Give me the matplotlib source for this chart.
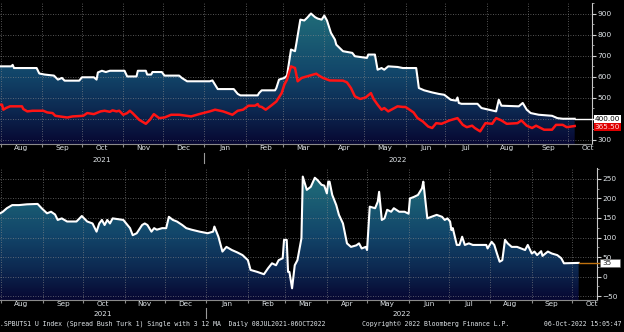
import matplotlib
matplotlib.use("Agg")
import matplotlib.dates as mdates
import numpy as np
import pandas as pd
from matplotlib import pyplot as plt
from matplotlib.colors import LinearSegmentedColormap
from matplotlib.patches import Polygon, Rectangle
from matplotlib.ticker import MultipleLocator, NullFormatter

# top panel: spread (white) and moving average (red)
spread_dates = ["2021-07-25", "2021-08-09", "2021-08-10", "2021-08-11", "2021-08-28", "2021-08-30", "2021-09-03",
                "2021-09-10", "2021-09-13", "2021-09-16", "2021-09-18", "2021-09-29", "2021-10-01", "2021-10-10",
                "2021-10-12", "2021-10-13", "2021-10-16", "2021-10-19", "2021-10-22", "2021-11-02", "2021-11-04",
                "2021-11-11", "2021-11-12", "2021-11-18", "2021-11-19", "2021-11-22", "2021-11-23", "2021-11-30",
                "2021-12-02", "2021-12-13", "2021-12-15", "2021-12-19", "2022-01-05", "2022-01-07", "2022-01-11",
                "2022-01-23", "2022-01-26", "2022-01-28", "2022-02-10", "2022-02-11", "2022-02-13", "2022-02-23",
                "2022-02-24", "2022-02-26", "2022-03-02", "2022-03-04", "2022-03-07", "2022-03-10", "2022-03-11",
                "2022-03-14", "2022-03-17", "2022-03-19", "2022-03-22", "2022-03-25", "2022-03-27", "2022-03-30",
                "2022-04-01", "2022-04-03", "2022-04-06", "2022-04-09", "2022-04-10", "2022-04-15", "2022-04-22",
                "2022-04-24", "2022-05-03", "2022-05-04", "2022-05-09", "2022-05-11", "2022-05-14", "2022-05-16",
                "2022-05-19", "2022-05-26", "2022-05-30", "2022-06-09", "2022-06-11", "2022-06-15", "2022-06-21",
                "2022-06-26", "2022-06-30", "2022-07-05", "2022-07-09", "2022-07-10", "2022-07-11", "2022-07-13",
                "2022-07-25", "2022-07-28", "2022-08-08", "2022-08-10", "2022-08-12", "2022-08-25", "2022-08-28",
                "2022-08-31", "2022-09-03", "2022-09-09", "2022-09-19", "2022-09-23", "2022-09-27", "2022-10-06"]
spread_values = [649, 649, 656, 641, 641, 615, 610, 605, 586, 594, 581, 581, 597, 597, 586, 620, 628, 622, 628, 628,
                 601, 601, 628, 628, 610, 610, 622, 622, 605, 605, 594, 578, 578, 582, 541, 541, 518, 511, 511, 522,
                 535, 535, 546, 586, 594, 605, 729, 721, 757, 871, 867, 879, 900, 883, 876, 871, 890, 867, 808, 776,
                 752, 721, 713, 697, 689, 705, 705, 633, 641, 633, 649, 646, 641, 641, 546, 535, 525, 518, 514, 490,
                 486, 501, 475, 471, 471, 451, 435, 490, 462, 459, 475, 443, 427, 419, 414, 403, 400, 400]

ma_dates = ["2021-07-25", "2021-08-02", "2021-08-03", "2021-08-05", "2021-08-08", "2021-08-17", "2021-08-18",
            "2021-08-21", "2021-08-25", "2021-09-02", "2021-09-05", "2021-09-09", "2021-09-11", "2021-09-20",
            "2021-09-24", "2021-10-02", "2021-10-05", "2021-10-10", "2021-10-15", "2021-10-18", "2021-10-22",
            "2021-10-24", "2021-10-27", "2021-10-29", "2021-11-01", "2021-11-04", "2021-11-06", "2021-11-08",
            "2021-11-13", "2021-11-18", "2021-11-21", "2021-11-24", "2021-11-28", "2021-12-02", "2021-12-07",
            "2021-12-13", "2021-12-22", "2021-12-28", "2022-01-05", "2022-01-09", "2022-01-15", "2022-01-22",
            "2022-01-26", "2022-01-30", "2022-02-03", "2022-02-08", "2022-02-10", "2022-02-11", "2022-02-13",
            "2022-02-16", "2022-02-20", "2022-02-24", "2022-02-28", "2022-03-02", "2022-03-04", "2022-03-07",
            "2022-03-10", "2022-03-12", "2022-03-15", "2022-03-21", "2022-03-26", "2022-03-28", "2022-03-31",
            "2022-04-05", "2022-04-15", "2022-04-18", "2022-04-21", "2022-04-24", "2022-04-28", "2022-05-02",
            "2022-05-06", "2022-05-08", "2022-05-11", "2022-05-14", "2022-05-16", "2022-05-19", "2022-05-26",
            "2022-05-30", "2022-06-01", "2022-06-07", "2022-06-10", "2022-06-14", "2022-06-18", "2022-06-21",
            "2022-06-24", "2022-06-28", "2022-07-04", "2022-07-10", "2022-07-14", "2022-07-17", "2022-07-21",
            "2022-07-23", "2022-07-27", "2022-07-31", "2022-08-05", "2022-08-08", "2022-08-12", "2022-08-16",
            "2022-08-24", "2022-08-27", "2022-08-31", "2022-09-04", "2022-09-07", "2022-09-13", "2022-09-19",
            "2022-09-22", "2022-09-27", "2022-09-30", "2022-10-06"]
ma_values = [467, 467, 443, 451, 459, 459, 446, 435, 438, 438, 430, 427, 414, 406, 411, 414, 427, 422, 435, 438,
             433, 440, 435, 438, 419, 427, 438, 427, 395, 376, 395, 422, 403, 406, 419, 419, 411, 422, 435, 443,
             435, 419, 438, 443, 462, 462, 470, 459, 456, 443, 462, 482, 522, 562, 586, 649, 641, 578, 594, 605,
             614, 605, 594, 582, 581, 573, 546, 506, 494, 501, 522, 494, 467, 443, 451, 435, 459, 456, 456, 430,
             403, 387, 363, 356, 379, 376, 392, 403, 371, 360, 367, 356, 340, 379, 376, 403, 392, 376, 379, 392,
             367, 356, 367, 348, 348, 371, 371, 360, 365.5]

# bottom panel: spread minus moving average
diff_dates = ["2021-07-25", "2021-07-31", "2021-08-02", "2021-08-05", "2021-08-09", "2021-08-14", "2021-08-20",
              "2021-08-28", "2021-08-31", "2021-09-04", "2021-09-07", "2021-09-10", "2021-09-12", "2021-09-15",
              "2021-09-19", "2021-09-26", "2021-09-30", "2021-10-04", "2021-10-08", "2021-10-11", "2021-10-13",
              "2021-10-15", "2021-10-17", "2021-10-19", "2021-10-21", "2021-10-23", "2021-10-31", "2021-11-05",
              "2021-11-07", "2021-11-10", "2021-11-14", "2021-11-16", "2021-11-18", "2021-11-21", "2021-11-23",
              "2021-11-25", "2021-11-29", "2021-12-02", "2021-12-04", "2021-12-07", "2021-12-10", "2021-12-14",
              "2021-12-17", "2021-12-21", "2021-12-27", "2022-01-02", "2022-01-06", "2022-01-07", "2022-01-10",
              "2022-01-13", "2022-01-16", "2022-01-20", "2022-01-24", "2022-01-28", "2022-02-01", "2022-02-03",
              "2022-02-08", "2022-02-13", "2022-02-16", "2022-02-19", "2022-02-22", "2022-02-24", "2022-02-27",
              "2022-02-28", "2022-03-02", "2022-03-03", "2022-03-04", "2022-03-06", "2022-03-08", "2022-03-10",
              "2022-03-13", "2022-03-14", "2022-03-17", "2022-03-20", "2022-03-23", "2022-03-25", "2022-03-28",
              "2022-03-30", "2022-04-01", "2022-04-02", "2022-04-03", "2022-04-05", "2022-04-08", "2022-04-10",
              "2022-04-13", "2022-04-16", "2022-04-19", "2022-04-23", "2022-04-25", "2022-04-27", "2022-04-30",
              "2022-05-01", "2022-05-03", "2022-05-07", "2022-05-09", "2022-05-10", "2022-05-12", "2022-05-14",
              "2022-05-16", "2022-05-19", "2022-05-21", "2022-05-25", "2022-05-29", "2022-06-01", "2022-06-02",
              "2022-06-05", "2022-06-08", "2022-06-11", "2022-06-12", "2022-06-15", "2022-06-18", "2022-06-22",
              "2022-06-26", "2022-06-28", "2022-06-30", "2022-07-02", "2022-07-03", "2022-07-04", "2022-07-07",
              "2022-07-09", "2022-07-11", "2022-07-13", "2022-07-16", "2022-07-19", "2022-07-29", "2022-07-30",
              "2022-08-02", "2022-08-04", "2022-08-06", "2022-08-08", "2022-08-10", "2022-08-12", "2022-08-14",
              "2022-08-17", "2022-08-21", "2022-08-24", "2022-08-27", "2022-08-29", "2022-09-01", "2022-09-03",
              "2022-09-05", "2022-09-08", "2022-09-09", "2022-09-13", "2022-09-16", "2022-09-20", "2022-09-23",
              "2022-09-25", "2022-10-06"]
diff_values = [160, 162, 166, 175, 183, 183, 185, 186, 175, 162,
               166, 159, 145, 149, 141, 141, 155, 141, 136, 115,
               136, 145, 132, 145, 136, 149, 145, 124, 106, 111,
               132, 136, 132, 115, 124, 120, 124, 124, 153, 145,
               141, 132, 124, 120, 115, 111, 115, 128, 102, 64,
               76, 68, 62, 55, 42, 17, 12, 6, 21, 34,
               29, 42, 47, 94, 94, 12, 12, -30, 29, 42,
               98, 256, 222, 230, 253, 247, 235, 233, 213, 243,
               243, 209, 183, 158, 136, 85, 76, 80, 85, 72,
               76, 68, 179, 175, 192, 217, 145, 149, 171, 166,
               175, 166, 166, 161, 200, 204, 209, 226, 243, 149,
               153, 158, 153, 145, 149, 141, 119, 124, 81, 81,
               102, 81, 85, 81, 81, 72, 89, 81, 59, 38,
               42, 94, 85, 76, 76, 72, 68, 81, 59, 64,
               55, 65, 53, 64, 59, 55, 47, 34, 35]

footer_left = ".SPBUTS1 U Index (Spread Bush Turk 1) Single with 3 12 MA  Daily 08JUL2021-06OCT2022"
footer_mid = "Copyright\u00a9 2022 Bloomberg Finance L.P."
footer_right = "06-Oct-2022 15:05:47"

TXT = '#dfe4e8'
GRID = '#8c8c8c'
fill_cmap = LinearSegmentedColormap.from_list(
    'bbg', [(0.0, '#070732'), (0.25, '#0d2a52'), (0.5, '#12466a'), (0.9, '#1f6a78'), (1.0, '#247684')])

base = pd.Timestamp('2021-08-01')


def to_num(dates):
    return mdates.date2num(pd.to_datetime(dates))


def style_axes(ax, days, ylim, major):
    ax.set_facecolor('black')
    ax.set_xlim(mdates.date2num(base + pd.Timedelta(days=days[0])),
                mdates.date2num(base + pd.Timedelta(days=days[1])))
    ax.set_ylim(*ylim)
    for s in ['left', 'top']:
        ax.spines[s].set_visible(False)
    ax.spines['right'].set_color('#c8c8c8')
    ax.spines['bottom'].set_color('#8a8a8a')
    ax.yaxis.tick_right()
    ax.yaxis.set_major_locator(MultipleLocator(major))
    ax.yaxis.set_minor_locator(MultipleLocator(major / 2))
    ax.tick_params(axis='y', which='major', colors='#d0d0d0', labelcolor=TXT, labelsize=5.3,
                   length=3, width=0.8, pad=1)
    ax.tick_params(axis='y', which='minor', colors='#b0b0b0', length=1.5, width=0.6)
    ax.xaxis.set_major_locator(mdates.MonthLocator())
    ax.xaxis.set_major_formatter(NullFormatter())
    ax.xaxis.set_minor_locator(mdates.MonthLocator(bymonthday=16))
    ax.xaxis.set_minor_formatter(mdates.DateFormatter('%b'))
    ax.tick_params(axis='x', which='major', length=2, color='#8a8a8a')
    ax.tick_params(axis='x', which='minor', length=0, labelcolor=TXT, labelsize=5.2, pad=1.0)
    ax.set_axisbelow(False)
    ax.grid(True, which='major', color=GRID, linestyle=(0, (1, 2)), linewidth=0.6, alpha=0.8)


def gradient_fill(ax, dates, values):
    xn = to_num(dates)
    x0, x1 = ax.get_xlim()
    ylo, yhi = ax.get_ylim()
    verts = [(xn[0], ylo)] + list(zip(xn, values)) + [(xn[-1], ylo)]
    poly = Polygon(verts, closed=True, facecolor='none', edgecolor='none')
    ax.add_patch(poly)
    grad = np.linspace(1, 0, 256).reshape(-1, 1)
    im = ax.imshow(grad, aspect='auto', cmap=fill_cmap, extent=[x0, x1, ylo, yhi],
                   origin='upper', zorder=1, interpolation='bilinear')
    im.set_clip_path(poly)
    ax.set_xlim(x0, x1)
    ax.set_ylim(ylo, yhi)


def year_labels(ax, y_text, sep):
    x0, x1 = ax.get_xlim()
    jan = mdates.date2num(pd.Timestamp('2022-01-01'))
    tr = ax.get_xaxis_transform()
    ax.text((x0 + jan) / 2, y_text, '2021', transform=tr, ha='center', va='center',
            color=TXT, fontsize=5.2, clip_on=False)
    ax.text((jan + x1) / 2, y_text, '2022', transform=tr, ha='center', va='center',
            color=TXT, fontsize=5.2, clip_on=False)
    ax.plot([jan, jan], sep, transform=tr, color='#9a9a9a', lw=0.8, clip_on=False)


fig = plt.figure(figsize=(6.24, 3.32), dpi=100, facecolor='black')
ax1 = fig.add_axes([0, 188 / 332, 592 / 624, 141 / 332])
ax2 = fig.add_axes([0, 32 / 332, 597 / 624, 132 / 332])

# top panel
style_axes(ax1, (-0.5, 444.0), (280, 950), 100)
gradient_fill(ax1, spread_dates, spread_values)
ax1.plot(to_num(spread_dates), spread_values, color='white', lw=1.5, zorder=4)
ax1.plot(to_num(ma_dates), ma_values, color='#ff1414', lw=1.8, zorder=5)
ax1.plot([to_num(spread_dates)[-1], ax1.get_xlim()[1] + 1.5], [spread_values[-1]] * 2,
         color='white', lw=1.0, zorder=4, clip_on=False)
ty = ax1.get_yaxis_transform()
ax1.text(1.004, ma_values[-1] - 3, '365.50', transform=ty, ha='left', va='center', fontsize=5.2,
         color='#ffdede', clip_on=False, zorder=6,
         bbox=dict(boxstyle='square,pad=0.12', fc='#e00000', ec='none'))
ax1.text(1.004, spread_values[-1], '400.00', transform=ty, ha='left', va='center', fontsize=5.2,
         color='black', clip_on=False, zorder=7,
         bbox=dict(boxstyle='square,pad=0.12', fc='white', ec='none'))
year_labels(ax1, -0.11, [-0.064, -0.135])

# bottom panel
style_axes(ax2, (-1.1, 444.7), (-60, 278), 50)
gradient_fill(ax2, diff_dates, diff_values)
ax2.plot(to_num(diff_dates), diff_values, color='white', lw=1.5, zorder=4)
ax2.plot([to_num(diff_dates)[-1], ax2.get_xlim()[1] + 2], [diff_values[-1]] * 2,
         color='#c0720f', lw=1.0, zorder=4, clip_on=False)
ty2 = ax2.get_yaxis_transform()
ax2.add_patch(Rectangle((1.005, diff_values[-1] - 10), 0.033, 20, transform=ty2, fc='white',
                        ec='#606060', lw=0.4, clip_on=False, zorder=6))
ax2.text(1.009, diff_values[-1], str(diff_values[-1]), transform=ty2, ha='left', va='center',
         fontsize=5.2, color='#202020', clip_on=False, zorder=7)
year_labels(ax2, -0.105, [-0.061, -0.136])

fy = 8 / 332
fig.text(0.0, fy, footer_left, family='DejaVu Sans Mono', fontsize=4.7, color=TXT, va='center')
fig.text(362 / 624, fy, footer_mid, family='DejaVu Sans Mono', fontsize=4.7, color=TXT, va='center')
fig.text(622 / 624, fy, footer_right, family='DejaVu Sans Mono', fontsize=4.7, color=TXT,
         va='center', ha='right')

fig.savefig('out.png', dpi=100, facecolor='black')
